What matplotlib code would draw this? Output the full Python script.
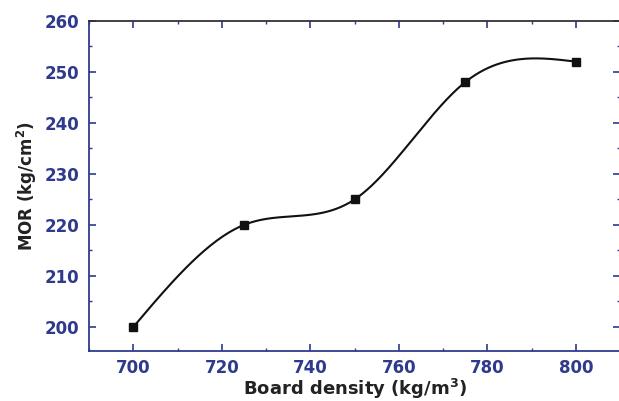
import numpy as np
import matplotlib
matplotlib.use('Agg')
import matplotlib.pyplot as plt
from matplotlib.ticker import MultipleLocator

density = [700, 725, 750, 775, 800]
mor = [200, 220, 225, 248, 252]

blue = '#2e3b8c'


def natural_spline(x, y, n=300):
    # plain natural cubic spline, no scipy needed
    x = np.asarray(x, float)
    y = np.asarray(y, float)
    k = len(x)
    h = np.diff(x)
    A = np.zeros((k, k))
    b = np.zeros(k)
    A[0, 0] = 1
    A[-1, -1] = 1
    for i in range(1, k - 1):
        A[i, i - 1] = h[i - 1]
        A[i, i] = 2 * (h[i - 1] + h[i])
        A[i, i + 1] = h[i]
        b[i] = 6 * ((y[i + 1] - y[i]) / h[i] - (y[i] - y[i - 1]) / h[i - 1])
    m = np.linalg.solve(A, b)
    xs = np.linspace(x[0], x[-1], n)
    ys = np.empty_like(xs)
    for j, xv in enumerate(xs):
        i = min(np.searchsorted(x, xv, side='right') - 1, k - 2)
        t = xv - x[i]
        a = (x[i + 1] - xv) / h[i]
        c = t / h[i]
        ys[j] = (a * y[i] + c * y[i + 1]
                 + ((a ** 3 - a) * m[i] + (c ** 3 - c) * m[i + 1]) * h[i] ** 2 / 6)
    return xs, ys


plt.rcParams['font.family'] = ['DejaVu Sans']
plt.rcParams['font.weight'] = 'bold'
plt.rcParams['mathtext.default'] = 'bf'

fig = plt.figure(figsize=(6.19, 4.01), dpi=100)
ax = fig.add_axes([0.144, 0.125, 0.858, 0.823])

xs, ys = natural_spline(density, mor)
ax.plot(xs, ys, color='#111111', lw=1.5)
ax.plot(density, mor, 's', color='#111111', ms=5.5)

ax.set_xlim(690, 810)
ax.set_ylim(195.3, 260)
ax.xaxis.set_major_locator(MultipleLocator(20))
ax.xaxis.set_minor_locator(MultipleLocator(10))
ax.yaxis.set_major_locator(MultipleLocator(10))
ax.yaxis.set_minor_locator(MultipleLocator(5))
ax.tick_params(which='both', direction='in', top=True, right=True,
               color=blue, labelcolor=blue, labelsize=12)
ax.tick_params(which='major', length=5, width=1.2)
ax.tick_params(which='minor', length=2.5, width=1)
ax.tick_params(axis='x', pad=6)
ax.tick_params(axis='y', pad=7)
for s in ['left', 'bottom']:
    ax.spines[s].set_color(blue)
    ax.spines[s].set_linewidth(1.3)
for s in ['top', 'right']:
    ax.spines[s].set_color('#333333')
    ax.spines[s].set_linewidth(1.3)

ax.set_xlabel('Board density (kg/m$^3$)', fontsize=13,
              fontweight='bold', color='#222222', labelpad=0)
ax.set_ylabel('MOR (kg/cm$^2$)', fontsize=12,
              fontweight='bold', color='#222222', labelpad=4)

fig.savefig('out.png', dpi=100)
